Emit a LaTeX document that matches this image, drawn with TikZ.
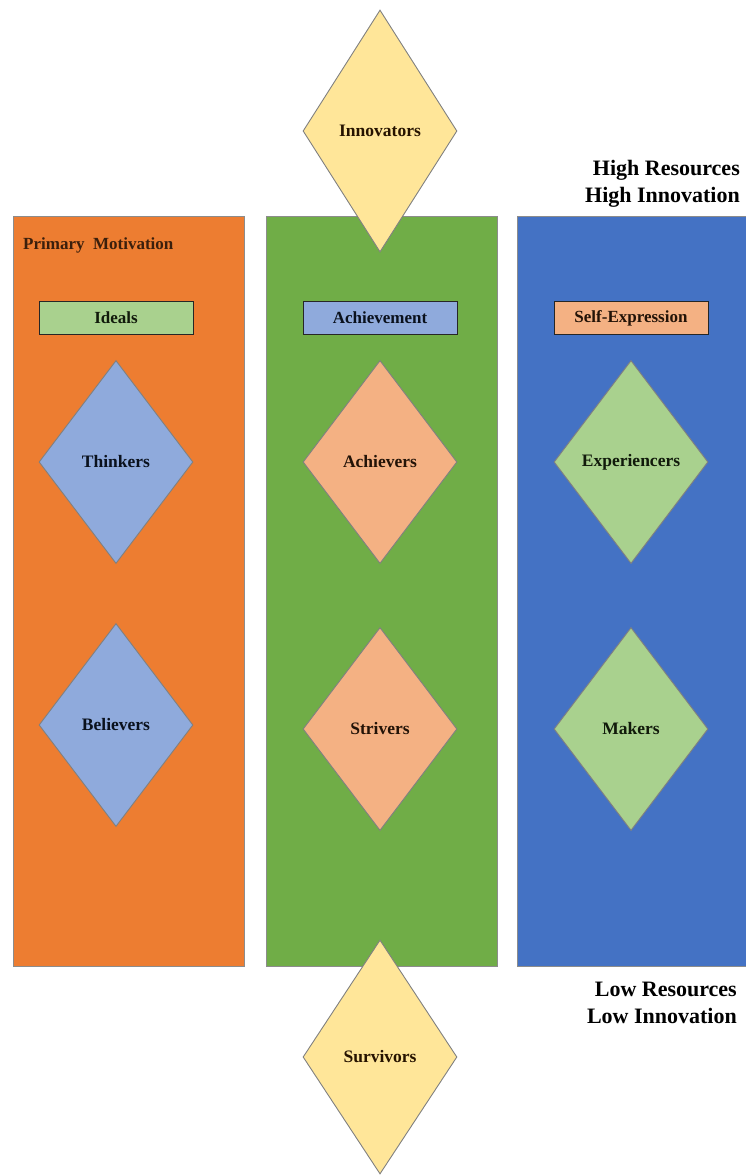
\documentclass[tikz,border=0pt]{standalone}
\usepackage{fontspec}
\setmainfont{Liberation Serif}
\usepackage{tikz}
\usetikzlibrary{calc,shapes,arrows}

\definecolor{colOrange}{HTML}{ED7D31}
\definecolor{colGreen}{HTML}{70AD47}
\definecolor{colBlue}{HTML}{4472C4}
\definecolor{colYellow}{HTML}{FFE699}
\definecolor{colLtBlue}{HTML}{8FAADC}
\definecolor{colLtOrange}{HTML}{F4B183}
\definecolor{colLtGreen}{HTML}{A9D18E}

\tikzset{
  column/.style={draw=black!45, line width=0.8pt, inner sep=0pt,
    minimum width=231pt, minimum height=750pt},
  motive/.style={draw=black!85, line width=0.9pt, inner sep=0pt,
    minimum width=154pt, minimum height=33pt,
    font=\fontsize{17}{19}\selectfont\bfseries},
  gem/.style={shape=diamond, draw=black!50, line width=0.9pt, inner sep=0pt,
    minimum width=154pt, minimum height=203pt,
    font=\fontsize{17.5}{19}\selectfont\bfseries},
  scale label/.style={align=right, anchor=east, inner sep=0pt,
    font=\fontsize{22}{26.5}\selectfont\bfseries}
}

\begin{document}
\begin{tikzpicture}[x=1pt,y=-1pt]
        \useasboundingbox (0,0) rectangle (745,1175);
        % three columns
        \node[column, fill=colOrange] (ideals col) at (129,591) {};
        \node[column, fill=colGreen] (achieve col) at (381.5,591) {};
        \node[column, fill=colBlue] (express col) at (632.5,591) {};
        \node[anchor=west, inner sep=0pt, text=black!75!colOrange,
            font=\fontsize{17}{19}\selectfont\bfseries] (motivation) at (23,245)
            {Primary\ \ Motivation};
        % motivation boxes
        \node[motive, fill=colLtGreen, text=black!85!colGreen] (ideals) at (116,318) {Ideals};
        \node[motive, fill=colLtBlue, text=black!85!colBlue] (achievement) at (380,318) {Achievement};
        \node[motive, fill=colLtOrange, text=black!85!colOrange] (selfexpr) at (631,318) {Self-Expression};
        % segments
        \node[gem, fill=colLtBlue, text=black!85!colBlue] (thinkers) at (116,462) {Thinkers};
        \node[gem, fill=colLtBlue, text=black!85!colBlue] (believers) at (116,725) {Believers};
        \node[gem, fill=colLtOrange, text=black!85!colOrange] (achievers) at (380,462) {Achievers};
        \node[gem, fill=colLtOrange, text=black!85!colOrange] (strivers) at (380,729) {Strivers};
        \node[gem, fill=colLtGreen, text=black!85!colGreen] (experiencers) at (631,462) {Experiencers};
        \node[gem, fill=colLtGreen, text=black!85!colGreen] (makers) at (631,729) {Makers};
        \node[gem, fill=colYellow, minimum height=242pt, text=black!85!orange] (innovators) at (380,131) {Innovators};
        \node[gem, fill=colYellow, minimum height=234pt, text=black!85!orange] (survivors) at (380,1057) {Survivors};
        % resource scale
        \node[scale label] (high) at (740,184) {High Resources\\High Innovation};
        \node[scale label] (low) at (737,1003) {Low Resources\\Low Innovation};
    \end{tikzpicture}
\end{document}
